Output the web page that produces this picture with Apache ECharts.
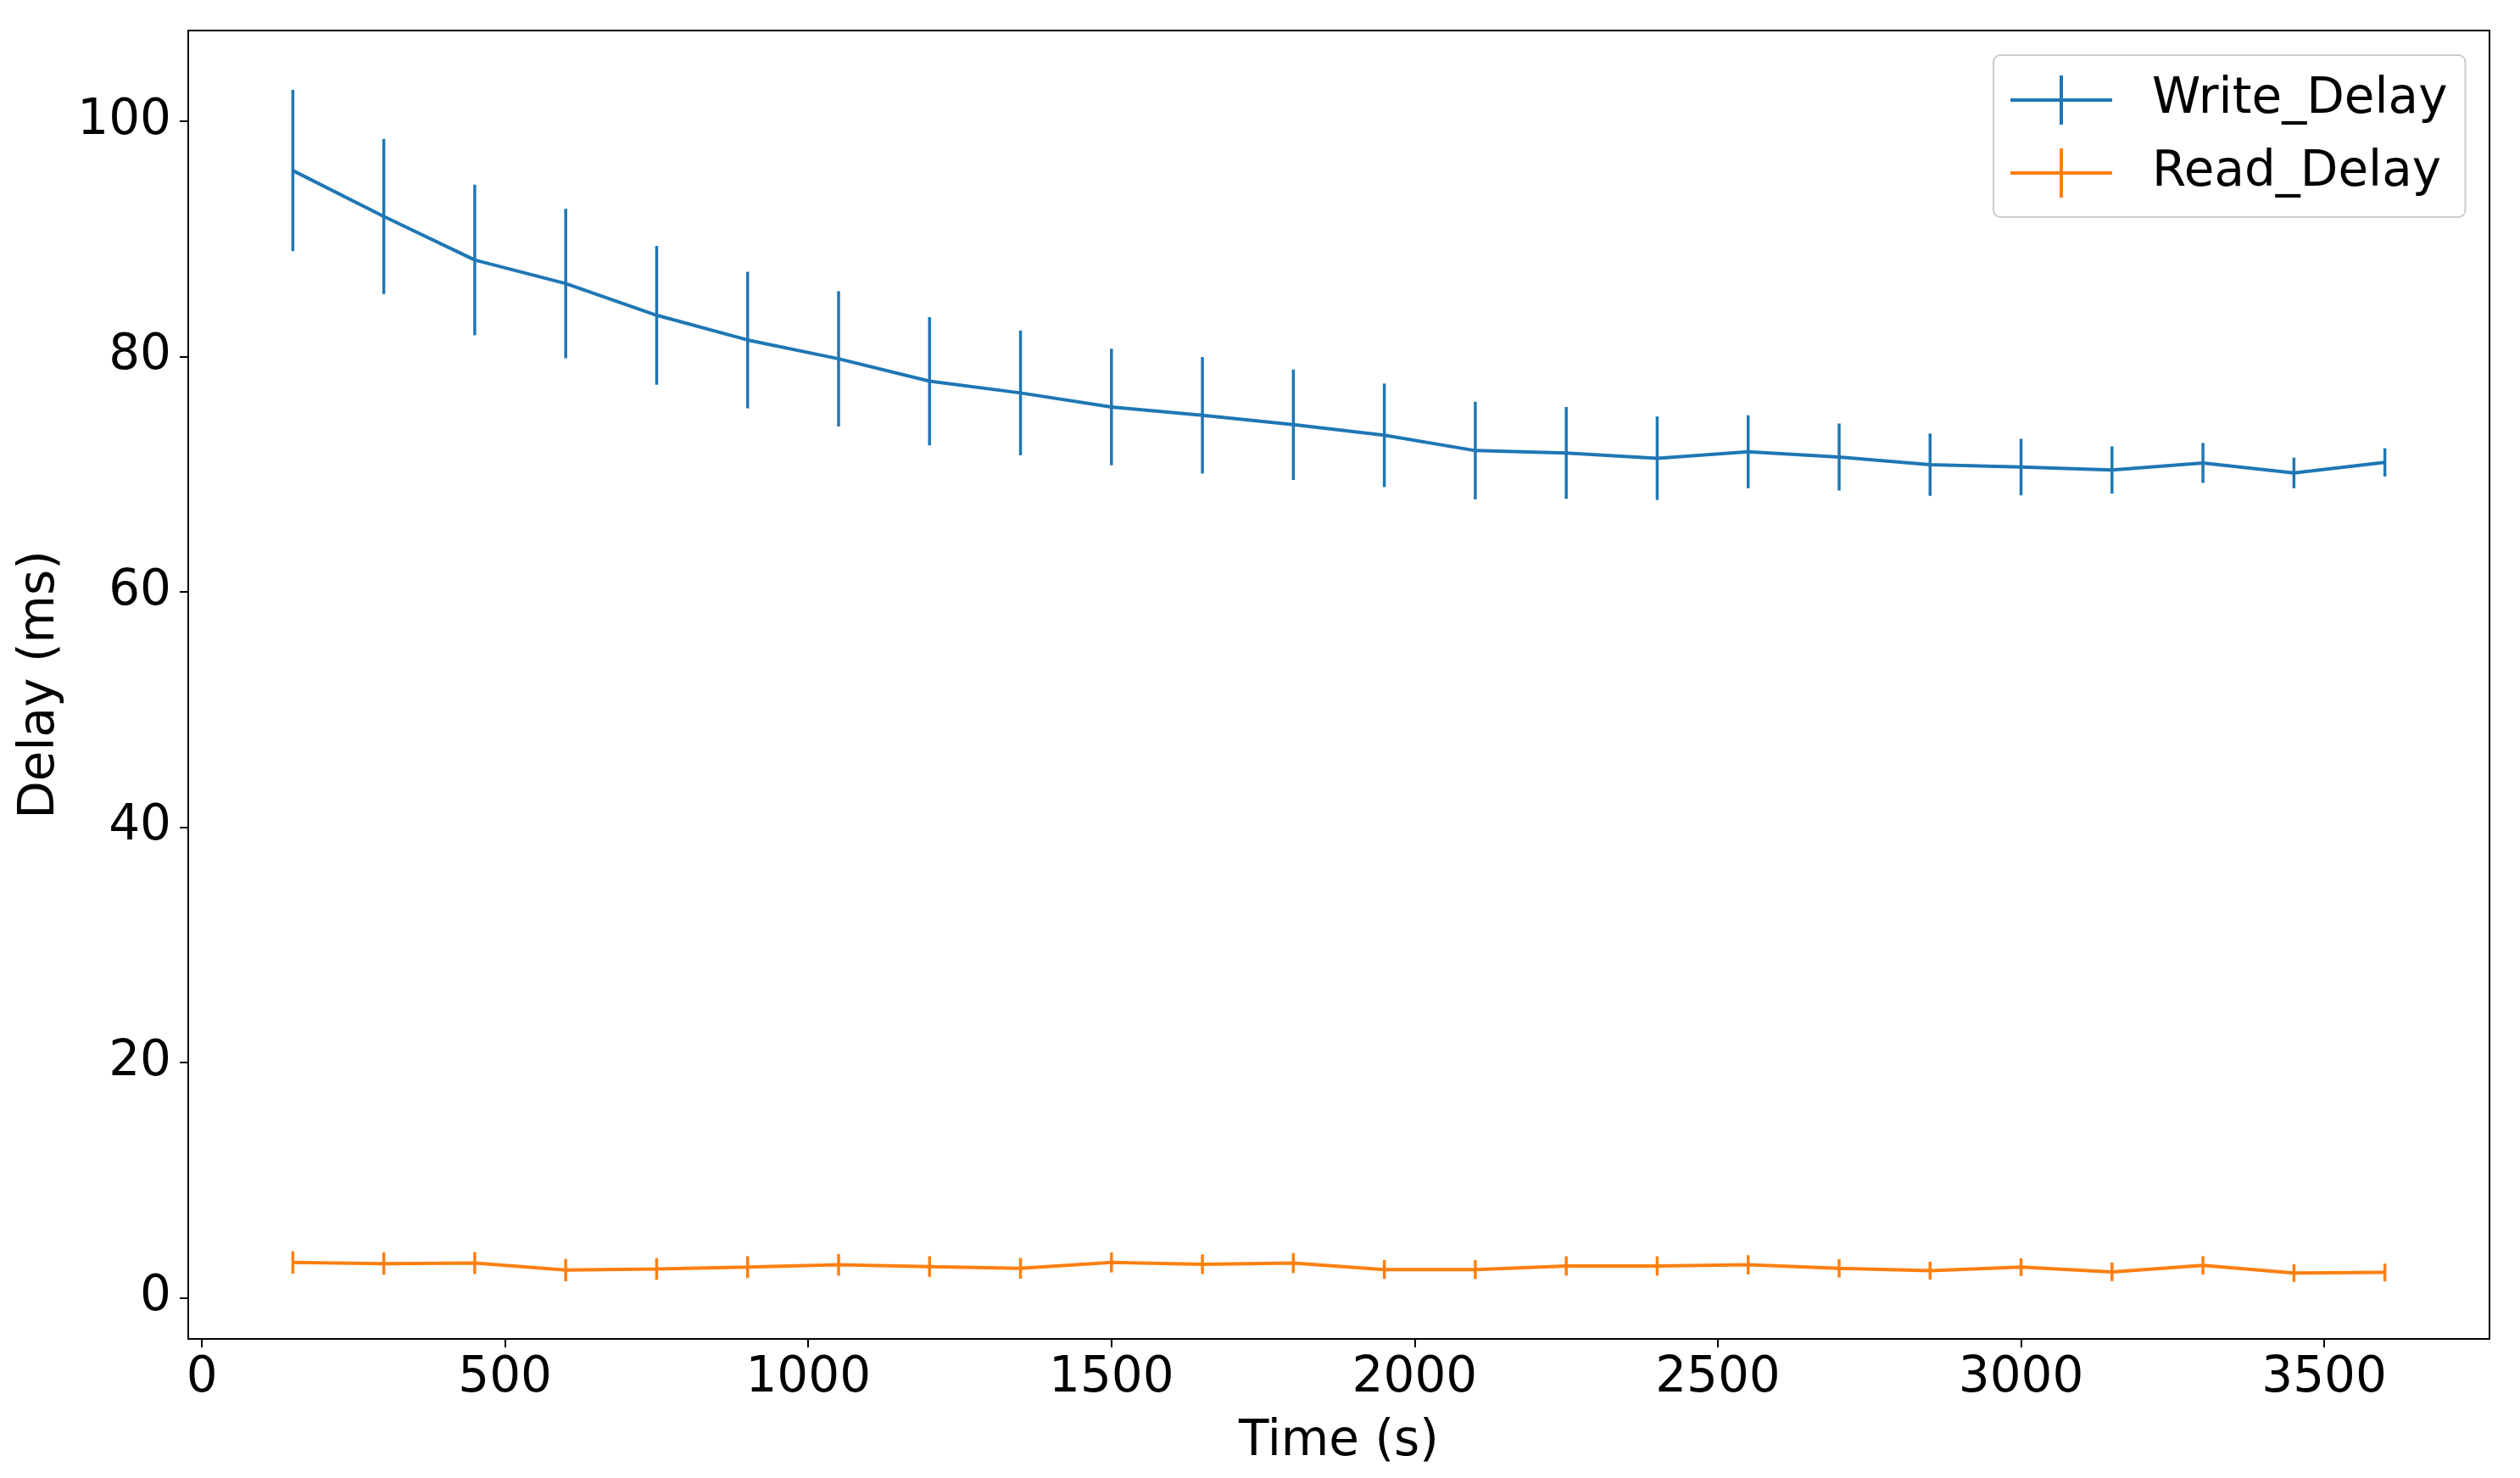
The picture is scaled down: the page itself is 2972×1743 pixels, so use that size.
<!DOCTYPE html>
<html>
<head>
<meta charset="utf-8">
<script src="https://cdn.jsdelivr.net/npm/echarts@6/dist/echarts.min.js"></script>
<style>
html,body{margin:0;padding:0;background:#fff;}
#chart{width:2972px;height:1743px;}
</style>
</head>
<body>
<div id="chart"></div>
<script>
const timeValues = [150,300,450,600,750,900,1050,1200,1350,1500,1650,1800,1950,2100,2250,2400,2550,2700,2850,3000,3150,3300,3450,3600];
const writeMean = [95.8,91.9,88.2,86.2,83.5,81.4,79.8,77.9,76.9,75.7,75.0,74.2,73.3,72.0,71.8,71.35,71.9,71.45,70.8,70.6,70.35,70.95,70.1,71.0];
const writeErr = [6.85,6.6,6.4,6.35,5.9,5.8,5.75,5.45,5.3,4.95,4.95,4.7,4.4,4.15,3.9,3.55,3.1,2.85,2.65,2.4,2.0,1.7,1.3,1.2];
const readMean = [3.0,2.9,2.95,2.35,2.45,2.6,2.8,2.65,2.5,3.0,2.85,2.95,2.4,2.4,2.7,2.7,2.8,2.5,2.3,2.6,2.2,2.75,2.1,2.15];
const readErr = [0.95,0.95,0.93,0.95,0.92,0.93,0.92,0.88,0.88,0.85,0.83,0.85,0.8,0.8,0.82,0.82,0.82,0.78,0.76,0.76,0.79,0.78,0.76,0.75];
const xTickValues = [0,500,1000,1500,2000,2500,3000,3500];
const yTickValues = [0,20,40,60,80,100];
const seriesNames = ['Write_Delay','Read_Delay'];
const xAxisName = 'Time (s)';
const yAxisName = 'Delay (ms)';

const BLUE = '#1f77b4', ORANGE = '#ff7f0e';
const FONT = 'DejaVu Sans';
const legendIcon = 'path://M0,27 H120 V31 H0 Z M58,0 H62 V58 H58 Z';

function errData(mean, err){
  return timeValues.map((t,i)=>[t, mean[i]-err[i], mean[i]+err[i]]);
}
function errRender(color){
  return function(params, api){
    const p1 = api.coord([api.value(0), api.value(1)]);
    const p2 = api.coord([api.value(0), api.value(2)]);
    return {type:'line', shape:{x1:p1[0],y1:p1[1],x2:p2[0],y2:p2[1]}, style:{stroke:color, lineWidth:3.5}};
  };
}

const chart = echarts.init(document.getElementById('chart'), null, {renderer:'canvas'});
chart.setOption({
  animation:false,
  backgroundColor:'#fff',
  textStyle:{fontFamily:FONT},
  grid:{left:222,right:36,top:36,bottom:164,show:true,borderColor:'#000',borderWidth:2,backgroundColor:'transparent'},
  xAxis:{
    type:'value', min:-22.5, max:3772.5,
    name:xAxisName, nameLocation:'middle', nameGap:93,
    nameTextStyle:{fontSize:58,color:'#000',fontFamily:FONT},
    axisLine:{show:true,onZero:false,lineStyle:{color:'#000',width:2}},
    axisTick:{show:true,customValues:xTickValues,length:10,lineStyle:{color:'#000',width:2}},
    axisLabel:{show:true,customValues:xTickValues,fontSize:58,color:'#000',margin:18,fontFamily:FONT,formatter:v=>String(v)},
    splitLine:{show:false}
  },
  yAxis:{
    type:'value', min:-3.5, max:107.7,
    name:yAxisName, nameLocation:'middle', nameGap:145, nameRotate:90,
    nameTextStyle:{fontSize:58,color:'#000',fontFamily:FONT},
    axisLine:{show:true,onZero:false,lineStyle:{color:'#000',width:2}},
    axisTick:{show:true,customValues:yTickValues,length:10,lineStyle:{color:'#000',width:2}},
    axisLabel:{show:true,customValues:yTickValues,fontSize:58,color:'#000',margin:20,fontFamily:FONT,formatter:v=>String(v)},
    splitLine:{show:false}
  },
  legend:{
    left:2351, top:65, orient:'vertical',
    padding:[24,21,23,20], itemGap:28,
    itemWidth:120, itemHeight:58,
    backgroundColor:'#fff', borderColor:'#cccccc', borderWidth:2, borderRadius:8,
    textStyle:{fontSize:58,color:'#000',fontFamily:FONT,lineHeight:58,padding:[0,0,0,42]},
    data:[{name:seriesNames[0],icon:legendIcon},{name:seriesNames[1],icon:legendIcon}]
  },
  series:[
    {name:seriesNames[0], type:'line', data:timeValues.map((t,i)=>[t,writeMean[i]]), showSymbol:false, symbol:'none', color:BLUE, lineStyle:{width:4,color:BLUE}, z:2},
    {name:'w_err', type:'custom', data:errData(writeMean, writeErr), renderItem:errRender(BLUE), z:2},
    {name:seriesNames[1], type:'line', data:timeValues.map((t,i)=>[t,readMean[i]]), showSymbol:false, symbol:'none', color:ORANGE, lineStyle:{width:4,color:ORANGE}, z:3},
    {name:'r_err', type:'custom', data:errData(readMean, readErr), renderItem:errRender(ORANGE), z:3}
  ]
});
</script>
</body>
</html>
